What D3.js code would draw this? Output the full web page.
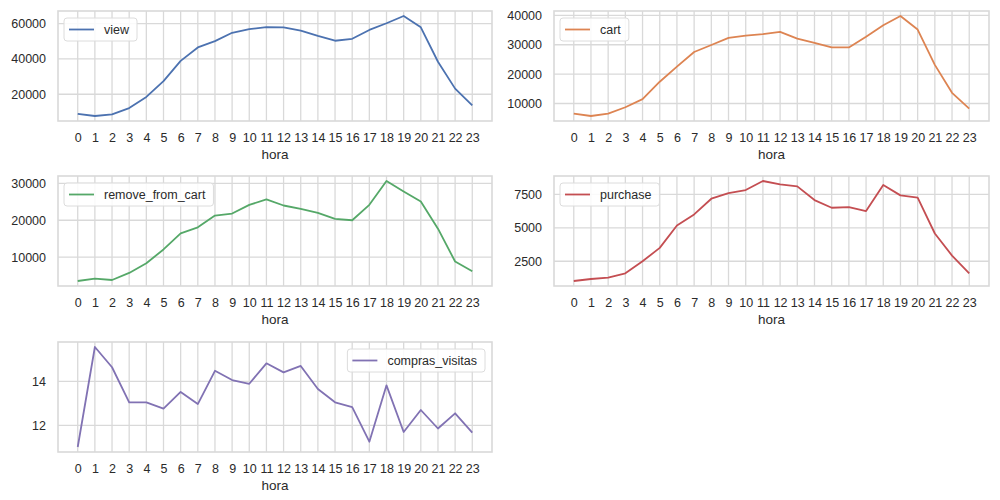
<!DOCTYPE html>
<html><head><meta charset="utf-8">
<script src="https://cdn.jsdelivr.net/npm/d3@7"></script>
<style>
body{margin:0;background:#fff;}
svg{font-family:"Liberation Sans",Arial,sans-serif;}
</style></head>
<body><svg id="c" width="1000" height="500"></svg>
<script>
const horas = d3.range(0, 24);
const xTickLabels = horas.map(String);
const view = [8900,7700,8600,12200,18500,27400,38900,46500,50100,54800,56900,58000,57900,56000,53000,50300,51400,56400,60200,64300,57900,38400,23200,13700];
const cart = [6560,5740,6560,8730,11480,17420,22580,27530,29930,32340,33130,33600,34400,32100,30620,29100,29100,32700,36670,39800,35190,23160,13640,8280];
const removeFromCart = [3545,4180,3820,5730,8360,12090,16450,18090,21270,21820,24180,25640,24000,23090,22000,20360,20000,24180,30640,27820,25090,17730,8820,6180];
const purchase = [1025,1175,1275,1600,2500,3500,5175,6000,7175,7600,7825,8500,8250,8100,7075,6500,6550,6250,8200,7425,7250,4575,2925,1600];
const comprasVisitas = [11.02,15.56,14.64,13.05,13.05,12.76,13.52,12.97,14.48,14.06,13.89,14.82,14.41,14.70,13.65,13.05,12.83,11.26,13.82,11.70,12.70,11.86,12.55,11.67];
const viewTicks = [20000,40000,60000];
const cartTicks = [10000,20000,30000,40000];
const removeTicks = [10000,20000,30000];
const purchaseTicks = [2500,5000,7500];
const ratioTicks = [12,14];

const panels = [
  {name:"view", data:view, ticks:viewTicks, color:"#4c72b0", box:[58,492,11,121], legend:"left"},
  {name:"cart", data:cart, ticks:cartTicks, color:"#dd8452", box:[554,989,11,121], legend:"left"},
  {name:"remove_from_cart", data:removeFromCart, ticks:removeTicks, color:"#55a868", box:[58,492,176,286], legend:"left"},
  {name:"purchase", data:purchase, ticks:purchaseTicks, color:"#c44e52", box:[554,989,176,286], legend:"left"},
  {name:"compras_visitas", data:comprasVisitas, ticks:ratioTicks, color:"#8172b3", box:[58,492,342,452], legend:"right"}
];

const svg = d3.select("#c");
const gridColor = "#d9d9d9";
const textColor = "#2a2a2a";

panels.forEach(p => {
  const [l, r, t, b] = p.box;
  const x = d3.scaleLinear().domain([-1.15, 24.15]).range([l, r]);
  const [mn, mx] = d3.extent(p.data);
  const pad = (mx - mn) * 0.05;
  const y = d3.scaleLinear().domain([mn - pad, mx + pad]).range([b, t]);
  const g = svg.append("g");

  // grid
  g.append("g").selectAll("line").data(horas).join("line")
    .attr("x1", d => x(d)).attr("x2", d => x(d)).attr("y1", t).attr("y2", b)
    .attr("stroke", gridColor).attr("stroke-width", 1.3);
  g.append("g").selectAll("line").data(p.ticks).join("line")
    .attr("x1", l).attr("x2", r).attr("y1", d => y(d)).attr("y2", d => y(d))
    .attr("stroke", gridColor).attr("stroke-width", 1.3);

  // axes (no tick marks)
  const xAxis = d3.axisBottom(x).tickValues(horas).tickFormat((d,i) => xTickLabels[i]).tickSize(0).tickPadding(12);
  const ax = g.append("g").attr("transform", `translate(0,${b})`).call(xAxis);
  ax.select(".domain").remove();
  ax.selectAll("text").attr("fill", textColor).attr("font-size", 12.5).attr("font-family", "Liberation Sans, Arial, sans-serif");
  const yAxis = d3.axisLeft(y).tickValues(p.ticks).tickFormat(d3.format("d")).tickSize(0).tickPadding(12);
  const ay = g.append("g").attr("transform", `translate(${l},0)`).call(yAxis);
  ay.select(".domain").remove();
  ay.selectAll("text").attr("fill", textColor).attr("font-size", 12.5).attr("font-family", "Liberation Sans, Arial, sans-serif");

  // frame
  g.append("rect").attr("x", l).attr("y", t).attr("width", r - l).attr("height", b - t)
    .attr("fill", "none").attr("stroke", gridColor).attr("stroke-width", 1.6);

  // x label
  g.append("text").attr("x", (l + r) / 2).attr("y", b + 38).attr("text-anchor", "middle")
    .attr("font-size", 13.5).attr("fill", textColor).text("hora");

  // line
  const line = d3.line().x((d, i) => x(horas[i])).y(d => y(d));
  g.append("path").datum(p.data).attr("d", line).attr("fill", "none")
    .attr("stroke", p.color).attr("stroke-width", 1.8).attr("stroke-linejoin", "round");

  // legend
  const lg = g.append("g");
  const rect = lg.append("rect").attr("rx", 3).attr("fill", "#fff").attr("fill-opacity", 0.85)
    .attr("stroke", "#dcdcdc").attr("stroke-width", 1);
  const txt = lg.append("text").attr("font-size", 12.5).attr("fill", textColor).attr("dy", "0.35em").text(p.name);
  const tw = txt.node().getComputedTextLength();
  const bw = tw + 48, bh = 23;
  const bx = p.legend === "left" ? l + 6 : r - 7 - bw;
  const by = t + 7;
  rect.attr("x", bx).attr("y", by).attr("width", bw).attr("height", bh);
  lg.append("line").attr("x1", bx + 5).attr("x2", bx + 30).attr("y1", by + bh / 2).attr("y2", by + bh / 2)
    .attr("stroke", p.color).attr("stroke-width", 1.8);
  txt.attr("x", bx + 40).attr("y", by + bh / 2);
});
</script></body></html>
